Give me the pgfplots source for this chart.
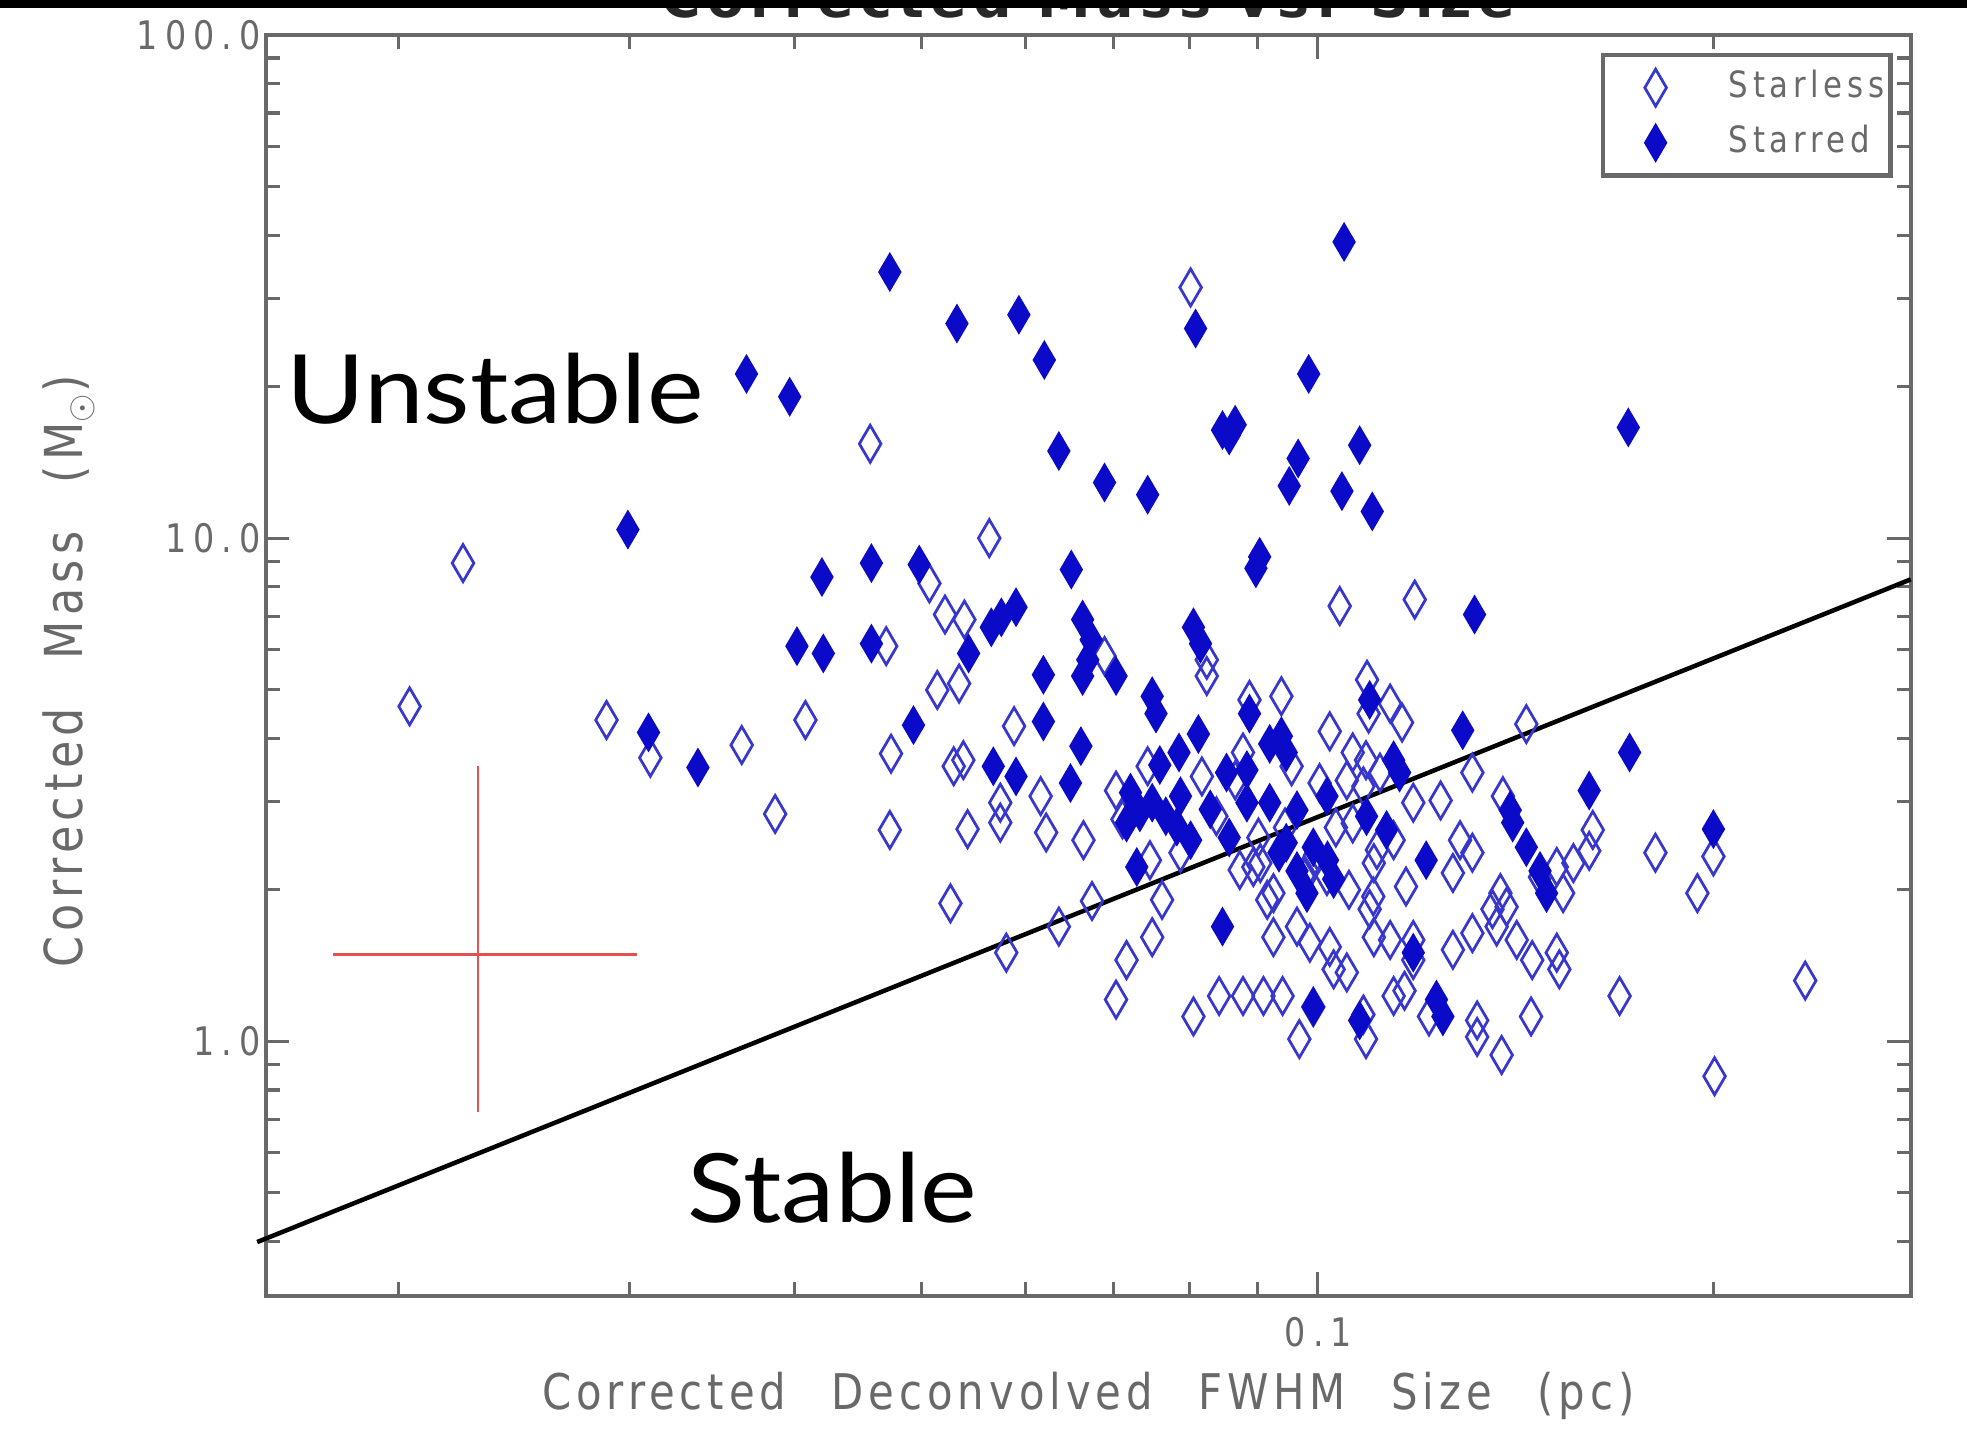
\documentclass[border=0pt]{standalone}
\usepackage{pgfplots}
\pgfplotsset{compat=1.18}
\usepackage{fontspec}
\setmainfont{DejaVu Sans}
\newfontfamily\idlfont[FakeStretch=0.85, LetterSpace=10, WordSpace=2.5]{DejaVu Sans}
\newfontfamily\idltick[FakeStretch=0.85, LetterSpace=18]{DejaVu Sans}
\newfontfamily\idllegend[FakeStretch=0.85, LetterSpace=13]{DejaVu Sans}
\newfontfamily\idltitle[LetterSpace=12]{DejaVu Sans}
\newfontfamily\notefont[FakeStretch=1.12]{Lato}
\definecolor{idlgray}{RGB}{105,105,105}
\definecolor{titlegray}{RGB}{40,40,40}
\definecolor{ptblue}{RGB}{10,10,200}
\definecolor{openblue}{RGB}{55,55,205}
\definecolor{errred}{RGB}{228,80,80}

\begin{document}
\begin{tikzpicture}
\begin{axis}[
  scale only axis,
  width=418.1pt, height=320.5pt,
  xmode=log, ymode=log,
  xmin=0.015862, xmax=0.2827,
  ymin=0.3118, ymax=100,
  clip=false,
  axis line style={idlgray, line width=0.9pt},
  tick style={idlgray, line width=0.8pt},
  major tick length=6pt, minor tick length=3.5pt,
  tick align=inside,
  xtick={0.1}, xticklabels={0.1},
  minor xtick={0.02,0.03,0.04,0.05,0.06,0.07,0.08,0.09,0.2},
  ytick={1,10,100}, yticklabels={1.0,10.0,100.0},
  minor ytick={0.4,0.5,0.6,0.7,0.8,0.9,2,3,4,5,6,7,8,9,20,30,40,50,60,70,80,90},
  ticklabel style={font=\idltick\fontsize{10}{11}\selectfont, text=idlgray},
  xticklabel style={anchor=center, inner sep=0pt, yshift=-9.2pt, xshift=0.3pt},
  yticklabel style={anchor=east, inner xsep=0pt, xshift=-1.1pt},
  xlabel={Corrected Deconvolved FWHM Size (pc)},
  ylabel={Corrected Mass (M$_\odot$)},
  label style={font=\idlfont\fontsize{12.5}{14}\selectfont, text=idlgray},
  xlabel style={at={(axis description cs:0.5,-0.0793)}, anchor=center},
  ylabel style={at={(axis description cs:-0.1198,0.4955)}, anchor=center,
    font=\idlfont\fontsize{13.3}{15}\selectfont},
  legend style={at={(0.989,0.986)}, anchor=north east, draw=idlgray, line width=1.2pt,
    inner xsep=1.5pt, inner ysep=3.6pt, row sep=4.6pt,
    font=\idllegend\fontsize{9.2}{10}\selectfont, text=idlgray,
    nodes={inner xsep=0pt, inner ysep=0pt, text height=6.7pt, text depth=1.8pt, anchor=west}},
  legend image code/.code={%
    \path (-11.3pt,0pt) (18pt,0pt);
    \draw[#1] plot coordinates {(0pt,0pt)};},
  legend cell align=left,
]

% starless cores
\addplot[only marks, mark=diamond, mark size=4.7pt,
  mark options={openblue, line width=0.7pt, xscale=0.78}]
coordinates {
(0.0204,4.63) (0.0224,8.92) (0.0288,4.35) (0.0311,3.66) (0.0365,3.88)
(0.0387,2.83) (0.0408,4.35) (0.0457,15.4) (0.0473,2.63) (0.0474,3.73)
(0.0470,6.10) (0.0507,8.13) (0.0521,7.05) (0.0539,6.89) (0.0534,5.14)
(0.0514,4.99) (0.0529,3.52) (0.0538,3.62) (0.0542,2.64) (0.0526,1.88)
(0.0563,10.0) (0.0588,4.23) (0.0574,2.98) (0.0616,3.07) (0.0580,1.50)
(0.0636,1.69) (0.0674,1.90) (0.0664,2.51) (0.0622,2.60) (0.0574,2.72)
(0.0689,5.83) (0.0801,31.5) (0.104,7.33) (0.1186,7.55) (0.1091,5.23)
(0.1160,4.30) (0.1442,4.27) (0.1521,2.22) (0.1566,2.26) (0.1610,2.39)
(0.1620,2.63) (0.1538,1.97) (0.1808,2.37) (0.1946,1.97) (0.2001,2.33)
(0.2005,0.852) (0.2350,1.32) (0.1698,1.23) (0.1454,1.12) (0.1381,0.939)
(0.1323,1.02) (0.1323,1.10) (0.1216,1.12) (0.1165,1.26) (0.1268,1.52)
(0.1312,1.64) (0.1369,1.69) (0.1418,1.59) (0.1457,1.45) (0.1521,1.50)
(0.1528,1.39) (0.1183,1.59) (0.1183,1.45) (0.1268,2.16) (0.1312,2.37)
(0.1284,2.51) (0.1168,2.03) (0.1378,1.97) (0.1393,1.85) (0.1359,1.83)
(0.1477,2.12) (0.1312,3.42) (0.1241,3.01) (0.1384,3.07) (0.1183,2.98)
(0.0746,2.29) (0.0787,2.37) (0.0762,1.91) (0.0749,1.61) (0.0716,1.45)
(0.0703,1.21) (0.0805,1.12) (0.0842,1.23) (0.0878,1.23) (0.0910,1.23)
(0.0941,1.23) (0.0969,1.01) (0.0993,1.17) (0.1084,1.13) (0.1089,1.01)
(0.1143,1.23) (0.0916,1.91) (0.0926,1.61) (0.0965,1.69) (0.0987,1.57)
(0.1029,1.39) (0.1053,1.37) (0.1022,1.54) (0.1096,1.83) (0.1104,1.61)
(0.1136,1.59) (0.0894,2.22) (0.1104,2.26) (0.1143,2.51) (0.0824,5.73)
(0.0824,5.32) (0.0743,3.52) (0.0817,3.36) (0.0878,3.75) (0.1004,3.26)
(0.1064,3.75) (0.1089,3.62) (0.1053,3.30) (0.1084,3.21) (0.1116,3.42)
(0.0888,4.77) (0.0939,4.85) (0.0956,3.52) (0.1094,4.48) (0.1136,4.69)
(0.0703,3.15) (0.0902,2.54) (0.0945,2.66) (0.0996,2.34) (0.1033,2.66)
(0.0978,2.11) (0.1022,4.13) (0.0711,2.76) (0.0866,3.30)
(0.0838,2.80) (0.0982,2.19) (0.1017,2.13) (0.0905,2.26) (0.0873,2.19)
(0.0926,1.97) (0.1057,2.00) (0.1103,1.94) (0.1064,2.71) (0.1110,2.40)
};
\addlegendentry{Starless}

% cores with embedded stars
\addplot[only marks, mark=diamond*, mark size=4.7pt,
  mark options={ptblue, fill=ptblue, line width=0.4pt, xscale=0.78}]
coordinates {
(0.0473,33.8) (0.0532,26.7) (0.0593,27.8) (0.0620,22.6) (0.1048,38.8)
(0.0808,26.1) (0.0368,21.2) (0.0397,19.1) (0.0985,21.2) (0.0636,14.9)
(0.0689,12.9) (0.0743,12.2) (0.0847,16.4) (0.0866,16.8) (0.0857,16.0)
(0.1077,15.3) (0.0967,14.4) (0.0952,12.7) (0.1044,12.4) (0.1101,11.3)
(0.1724,16.6) (0.0299,10.4) (0.0458,8.92) (0.0420,8.37) (0.0498,8.86)
(0.0650,8.66) (0.0904,9.18) (0.0898,8.71) (0.0402,6.10) (0.0421,5.90)
(0.0458,6.17) (0.0310,4.11) (0.0338,3.50) (0.0493,4.25) (0.0543,5.90)
(0.0590,7.29) (0.0575,6.96) (0.0565,6.65) (0.0619,5.35) (0.0619,4.32)
(0.0663,6.89) (0.0669,5.73) (0.0663,5.32) (0.0703,5.32) (0.0673,6.28)
(0.0749,4.85) (0.0754,4.48) (0.0805,6.65) (0.0815,6.17) (0.1317,7.05)
(0.1290,4.15) (0.1610,3.15) (0.1728,3.75) (0.2001,2.64) (0.0847,1.69)
(0.0567,3.52) (0.0590,3.36) (0.0649,3.26) (0.0661,3.86) (0.0812,4.08)
(0.0888,4.48) (0.0939,4.04) (0.1096,4.77) (0.0853,3.42) (0.0884,3.46)
(0.0920,3.90) (0.0947,3.75) (0.0884,2.98) (0.0920,2.98) (0.0965,2.88)
(0.0721,3.12) (0.0749,2.98) (0.0787,3.07) (0.0733,2.85) (0.0767,2.80)
(0.0716,2.72) (0.0782,2.67) (0.0801,2.51) (0.0729,2.22) (0.0935,2.37)
(0.0965,2.18) (0.0993,2.43) (0.1018,2.29) (0.1029,2.10) (0.0982,1.97)
(0.0993,1.17) (0.1077,1.10) (0.1143,3.62) (0.1155,3.42) (0.1210,2.29)
(0.1246,1.12) (0.1408,2.72) (0.1442,2.43) (0.1477,2.18) (0.1494,1.97)
(0.1402,2.88) (0.1183,1.50) (0.1232,1.21) (0.0785,3.75) (0.0759,3.54)
(0.0829,2.89) (0.0857,2.54)
(0.1017,3.07) (0.1090,2.80) (0.1129,2.63) (0.0947,2.48)
};
\addlegendentry{Starred}

% typical uncertainty
\addplot[forget plot, draw=none, mark=none,
  error bars/.cd, x dir=both, x explicit, y dir=both, y explicit,
  error bar style={errred, line width=0.6pt},
  error mark options={errred, mark size=1.5pt, line width=0.6pt}]
coordinates {(0.0230,1.487) += (0.00706,1.951) -= (0.00498,0.745)};

% stability boundary
\addplot[forget plot, black, line width=1.15pt, mark=none]
coordinates {(0.01562,0.399) (0.2827,8.28)};
\end{axis}

\node[anchor=base west, inner sep=0pt, font=\notefont\fontsize{24.3}{28}\selectfont]
  at (5.1pt,221.7pt) {Unstable};
\node[anchor=base west, inner sep=0pt, font=\notefont\fontsize{24.3}{28}\selectfont]
  at (107.0pt,18.6pt) {Stable};

\node[anchor=base, inner sep=0pt, text=titlegray,
  font=\idltitle\bfseries\fontsize{13.7}{15}\selectfont]
  at (209.05pt,324.9pt) {Corrected Mass vs. Size};
\fill[black] (-75pt,327.3pt) rectangle (440pt,340pt);

\pgfresetboundingbox
\useasboundingbox (-67.6pt,-35.9pt) rectangle (432.4pt,329.4pt);
\end{tikzpicture}
\end{document}
